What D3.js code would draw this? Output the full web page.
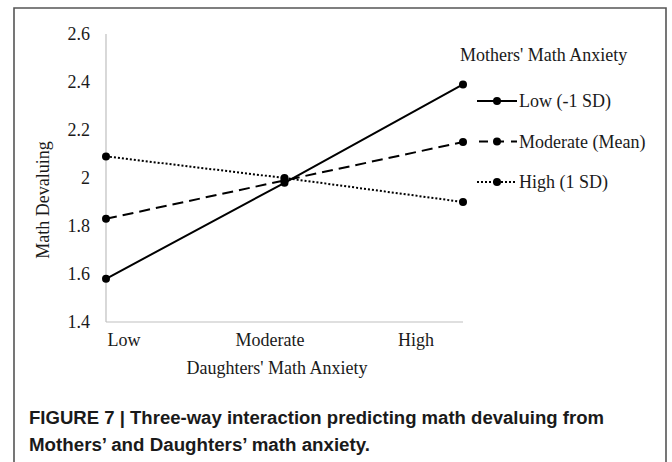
<!DOCTYPE html>
<html>
<head>
<meta charset="utf-8">
<script src="https://cdn.jsdelivr.net/npm/d3@7"></script>
<style>
  body { margin: 0; background: #fff; }
  svg text { font-family: "Liberation Serif", "Times New Roman", serif; fill: #1a1a1a; }
  .caption { font-family: "Liberation Sans", Arial, sans-serif !important; font-weight: bold; }
</style>
</head>
<body>
<svg width="672" height="462"></svg>
<script>
const categories = ["Low", "Moderate", "High"]
const seriesNames = ["Low (-1 SD)", "Moderate (Mean)", "High (1 SD)"]
const lowValues = [1.58, 1.98, 2.39]
const moderateValues = [1.83, 1.99, 2.15]
const highValues = [2.09, 2.00, 1.90]
const yTicks = [1.4, 1.6, 1.8, 2.0, 2.2, 2.4, 2.6]
const captionLines = [
  "FIGURE 7 | Three-way interaction predicting math devaluing from",
  "Mothers\u2019 and Daughters\u2019 math anxiety."
]

const series = [
  { name: seriesNames[0], values: lowValues, dash: null },
  { name: seriesNames[1], values: moderateValues, dash: "11,6" },
  { name: seriesNames[2], values: highValues, dash: "2,2" }
]

const svg = d3.select("svg")

// frame
svg.append("path")
  .attr("d", "M14,462 L14,8 L666,8 L666,462")
  .attr("fill", "none")
  .attr("stroke", "#555")
  .attr("stroke-width", 1.6)

const x = d3.scalePoint().domain(categories).range([106, 463])
const xLabel = d3.scalePoint().domain(categories).range([124, 416])
const y = d3.scaleLinear().domain([1.4, 2.6]).range([322, 34])

// axes
svg.append("line")
  .attr("x1", x("Low")).attr("x2", x("Low"))
  .attr("y1", y(2.6)).attr("y2", y(1.4))
  .attr("stroke", "#bfbfbf").attr("stroke-width", 1.2)
svg.append("line")
  .attr("x1", x("Low")).attr("x2", x("High"))
  .attr("y1", y(1.4)).attr("y2", y(1.4))
  .attr("stroke", "#bfbfbf").attr("stroke-width", 1.2)

svg.selectAll("text.ytick")
  .data(yTicks)
  .enter()
  .append("text")
  .attr("class", "ytick")
  .attr("x", 90)
  .attr("y", d => y(d))
  .attr("dy", "0.35em")
  .attr("text-anchor", "end")
  .style("font-size", "18px")
  .text(d => +d.toFixed(1))

svg.selectAll("text.xtick")
  .data(categories)
  .enter()
  .append("text")
  .attr("class", "xtick")
  .attr("x", d => xLabel(d))
  .attr("y", 346)
  .attr("text-anchor", "middle")
  .style("font-size", "18px")
  .text(d => d)

svg.append("text")
  .attr("x", 277)
  .attr("y", 374)
  .attr("text-anchor", "middle")
  .style("font-size", "18px")
  .text("Daughters' Math Anxiety")

svg.append("text")
  .attr("transform", "translate(49, 200) rotate(-90)")
  .attr("text-anchor", "middle")
  .style("font-size", "18px")
  .text("Math Devaluing")

// lines
const line = d3.line()
  .x((d, i) => x(categories[i]))
  .y(d => y(d))

const groups = svg.selectAll("g.series")
  .data(series)
  .enter()
  .append("g")
  .attr("class", "series")

groups.append("path")
  .attr("d", d => line(d.values))
  .attr("fill", "none")
  .attr("stroke", "#000")
  .attr("stroke-width", 2)
  .attr("stroke-dasharray", d => d.dash)

groups.selectAll("circle")
  .data(d => d.values)
  .enter()
  .append("circle")
  .attr("cx", (d, i) => x(categories[i]))
  .attr("cy", d => y(d))
  .attr("r", 4)
  .attr("fill", "#000")

// legend
svg.append("text")
  .attr("x", 460)
  .attr("y", 61)
  .style("font-size", "18px")
  .text("Mothers' Math Anxiety")

const legend = svg.selectAll("g.legend")
  .data(series)
  .enter()
  .append("g")
  .attr("class", "legend")
  .attr("transform", (d, i) => `translate(0, ${101 + i * 40.5})`)

legend.append("line")
  .attr("x1", 477).attr("x2", 517)
  .attr("y1", 0).attr("y2", 0)
  .attr("stroke", "#000")
  .attr("stroke-width", 2)
  .attr("stroke-dasharray", d => d.dash ? (d.dash === "2,2" ? "2,2" : "9,7") : null)
  .attr("stroke-dashoffset", d => d.dash === "2,2" ? 0 : -2)

legend.append("circle")
  .attr("cx", 497).attr("cy", 0).attr("r", 4).attr("fill", "#000")

legend.append("text")
  .attr("x", 519)
  .attr("y", 0)
  .attr("dy", "0.35em")
  .style("font-size", "18px")
  .text(d => d.name)

// caption
svg.selectAll("text.caption")
  .data(captionLines)
  .enter()
  .append("text")
  .attr("class", "caption")
  .attr("x", 29)
  .attr("y", (d, i) => 424 + i * 26.5)
  .attr("textLength", (d, i) => i === 0 ? 575 : 341)
  .attr("lengthAdjust", "spacingAndGlyphs")
  .style("font-size", "17.5px")
  .text(d => d)
</script>
</body>
</html>
